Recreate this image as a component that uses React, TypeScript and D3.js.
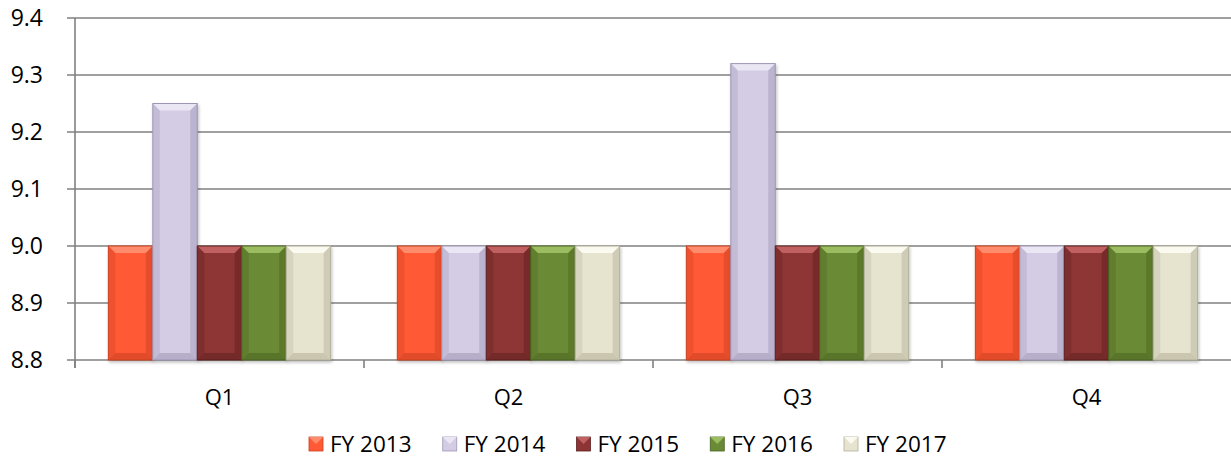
import React from 'react';
import * as d3 from 'd3';

const quarters = ['Q1', 'Q2', 'Q3', 'Q4'];
const seriesNames = ['FY 2013', 'FY 2014', 'FY 2015', 'FY 2016', 'FY 2017'];
const fy2013 = [9.0, 9.0, 9.0, 9.0];
const fy2014 = [9.25, 9.0, 9.32, 9.0];
const fy2015 = [9.0, 9.0, 9.0, 9.0];
const fy2016 = [9.0, 9.0, 9.0, 9.0];
const fy2017 = [9.0, 9.0, 9.0, 9.0];
const yTicks = [8.8, 8.9, 9.0, 9.1, 9.2, 9.3, 9.4];

const seriesValues = [fy2013, fy2014, fy2015, fy2016, fy2017];

// base, light (top bevel), dark (sides/bottom)
const palette = [
  { base: '#ff5a35', light: '#ff8c6c', dark: '#c9401f' },
  { base: '#d4cce5', light: '#ebe6f4', dark: '#9e95b4' },
  { base: '#8e3434', light: '#c06060', dark: '#5e2020' },
  { base: '#6a8a35', light: '#9cbc62', dark: '#4a6320' },
  { base: '#e6e3cf', light: '#fbfaf0', dark: '#b2af98' },
];

const font = "'Open Sans', 'Liberation Sans', sans-serif";

const Bar = ({ x, y, w, h, c }: { x: number; y: number; w: number; h: number; c: typeof palette[0] }) => {
  const b = Math.min(7, h / 2);
  const x1 = x + w;
  const y1 = y + h;
  return (
    <g filter="url(#shadow)">
      <rect x={x} y={y} width={w} height={h} fill={c.base} />
      <polygon points={`${x},${y} ${x1},${y} ${x1 - b},${y + b} ${x + b},${y + b}`} fill={c.light} />
      <polygon points={`${x},${y} ${x + b},${y + b} ${x + b},${y1 - b} ${x},${y1}`} fill={c.dark} opacity={0.3} />
      <polygon points={`${x1},${y} ${x1 - b},${y + b} ${x1 - b},${y1 - b} ${x1},${y1}`} fill={c.dark} opacity={0.45} />
      <polygon points={`${x},${y1} ${x + b},${y1 - b} ${x1 - b},${y1 - b} ${x1},${y1}`} fill={c.dark} opacity={0.55} />
      <rect x={x} y={y} width={w} height={h} fill="none" stroke={c.dark} strokeWidth={1} />
    </g>
  );
};

const App = () => {
  const width = 1231;
  const height = 465;
  const left = 75;
  const right = 1231;
  const top = 18;
  const bottom = 360;

  const y = d3.scaleLinear().domain([8.8, 9.4]).range([bottom, top]);
  const x = d3.scaleBand().domain(quarters).range([left, right]).padding(0);
  const step = x.bandwidth();
  const barW = step / 6.5;
  const inner = d3
    .scaleBand()
    .domain(seriesNames)
    .range([barW * 0.75, step - barW * 0.75])
    .padding(0);

  const legendX = d3.scalePoint().domain(seriesNames).range([309, 844]);

  return (
    <svg width={width} height={height} style={{ position: 'absolute', left: 0, top: 0, background: '#fff' }}>
      <defs>
        <filter id="shadow" x="-20%" y="-5%" width="140%" height="115%">
          <feDropShadow dx="1" dy="2" stdDeviation="1.5" floodColor="#000" floodOpacity="0.25" />
        </filter>
      </defs>

      {yTicks.map((t) => (
        <g key={t}>
          <line x1={left - 8} x2={right} y1={y(t)} y2={y(t)} stroke="#808080" strokeWidth={1.6} />
          <text x={43} y={y(t)} dy="0.35em" textAnchor="end" fontFamily={font} fontSize={23} fill="#000">
            {t.toFixed(1)}
          </text>
        </g>
      ))}

      <line x1={left} x2={left} y1={top} y2={bottom + 8} stroke="#808080" strokeWidth={1.6} />
      {quarters.map((q) => (
        <line key={q} x1={x(q)!} x2={x(q)!} y1={bottom} y2={bottom + 8} stroke="#808080" strokeWidth={1.6} />
      ))}

      {quarters.map((q, qi) =>
        seriesNames.map((s, si) => {
          const v = seriesValues[si][qi];
          const bx = x(q)! + inner(s)!;
          const by = y(v);
          return <Bar key={q + s} x={bx} y={by} w={inner.bandwidth()} h={bottom - by} c={palette[si]} />;
        })
      )}

      {quarters.map((q) => (
        <text key={q} x={x(q)! + step / 2} y={405} textAnchor="middle" fontFamily={font} fontSize={22} fill="#000">
          {q}
        </text>
      ))}

      {seriesNames.map((s, si) => {
        const lx = legendX(s)!;
        const c = palette[si];
        return (
          <g key={s}>
            <rect x={lx} y={437} width={14} height={14} fill={c.base} stroke={c.dark} strokeWidth={0.8} />
            <polygon points={`${lx},${437} ${lx + 14},${437} ${lx + 7},${444}`} fill={c.light} />
            <text x={lx + 21} y={452} fontFamily={font} fontSize={22.5} fill="#000">
              {s}
            </text>
          </g>
        );
      })}
    </svg>
  );
};

export default App;
